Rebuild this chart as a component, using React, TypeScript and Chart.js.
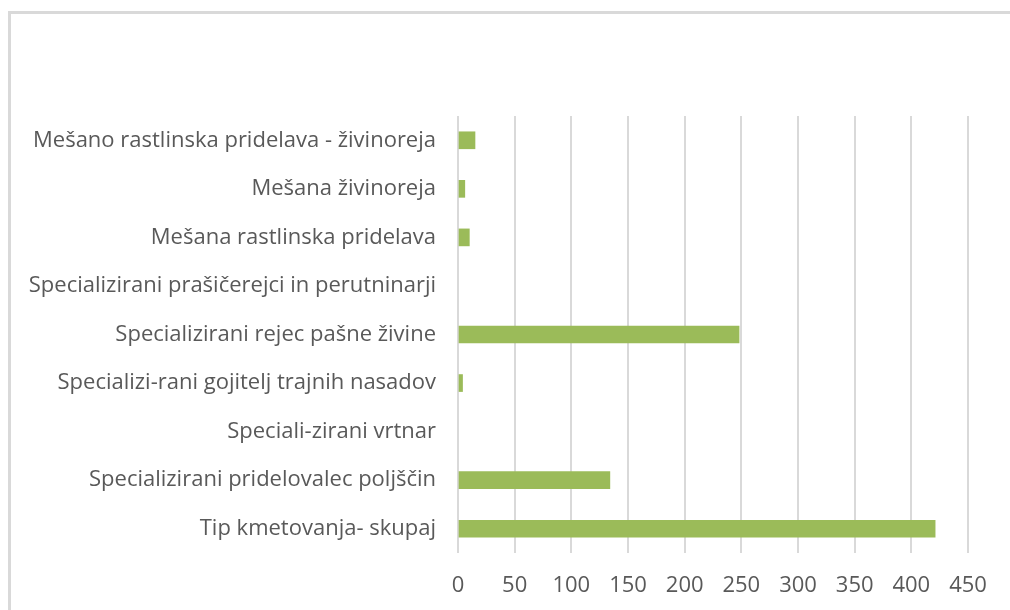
import React, { useEffect, useRef } from "react";
import { Chart, registerables } from "chart.js";

Chart.register(...registerables);

const categories = [
  "Mešano rastlinska pridelava - živinoreja",
  "Mešana živinoreja",
  "Mešana rastlinska pridelava",
  "Specializirani prašičerejci in perutninarji",
  "Specializirani rejec pašne živine",
  "Specializi-rani gojitelj trajnih nasadov",
  "Speciali-zirani vrtnar",
  "Specializirani pridelovalec poljščin",
  "Tip kmetovanja- skupaj",
];
const values = [15, 6, 10, 0, 248, 4, 0, 134, 421];
const xMin = 0;
const xMax = 450;
const xStep = 50;

export default function App() {
  const ref = useRef<HTMLCanvasElement | null>(null);
  useEffect(() => {
    document.body.style.margin = "0";
    if (!ref.current) return;
    const font = { family: "'Open Sans'", size: 22 };
    const chart = new Chart(ref.current, {
      type: "bar",
      data: {
        labels: categories,
        datasets: [
          {
            data: values.map((v) => (v === 0 ? null : v)),
            backgroundColor: "#9BBB59",
            borderWidth: 0,
            barThickness: 17,
          },
        ],
      },
      options: {
        indexAxis: "y",
        animation: false,
        responsive: false,
        maintainAspectRatio: false,
        layout: { padding: { top: 116, right: 42, bottom: 0, left: 0 } },
        plugins: { legend: { display: false }, tooltip: { enabled: false } },
        scales: {
          y: {
            type: "category",
            grid: { display: false, drawTicks: false },
            border: { display: false },
            ticks: { color: "#595959", font, padding: 22 },
            afterFit: (s: any) => {
              s.width = 458;
            },
          },
          x: {
            min: xMin,
            max: xMax,
            grid: { color: "#D9D9D9", lineWidth: 2, drawTicks: false },
            border: { display: false },
            ticks: { stepSize: xStep, color: "#595959", font, padding: 20 },
            afterFit: (s: any) => {
              s.height = 57;
            },
          },
        },
      },
    } as any);
    return () => chart.destroy();
  }, []);
  return (
    <div
      style={{
        position: "fixed",
        left: 0,
        top: 0,
        width: 1010,
        height: 610,
        overflow: "hidden",
        background: "#fff",
      }}
    >
      <div
        style={{
          position: "absolute",
          left: 8,
          top: 11,
          width: 1100,
          height: 700,
          border: "3px solid #D9D9D9",
          boxSizing: "border-box",
        }}
      />
      <canvas
        ref={ref}
        width={1010}
        height={610}
        style={{ position: "absolute", left: 0, top: 0, width: 1010, height: 610 }}
      />
    </div>
  );
}
